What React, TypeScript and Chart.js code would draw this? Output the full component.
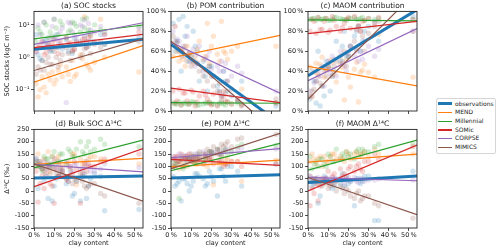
import React, { useEffect, useRef } from "react";
import { Chart, registerables } from "chart.js";
Chart.register(...registerables);

// ---------- data ----------
const seriesNames = ["observations", "MEND", "Millennial", "SOMic", "CORPSE", "MIMICS"];
const seriesColors = ["#1f77b4", "#ff7f0e", "#2ca02c", "#d62728", "#9467bd", "#8c564b"];

// clay content of the sites (fraction)
const clay = [0.01, 0.02, 0.04, 0.05, 0.07, 0.08, 0.10, 0.12, 0.14, 0.16, 0.18, 0.19, 0.21, 0.23, 0.25, 0.26, 0.28, 0.33, 0.35, 0.52,
  0.03, 0.06, 0.09, 0.11, 0.13, 0.17, 0.20, 0.24, 0.27, 0.30];
const clayMax = 0.54;
const clayTicks = [0, 0.1, 0.2, 0.3, 0.4, 0.5];
const socTicks = [0.1, 1, 10];
const fracTicks = [0, 20, 40, 60, 80, 100];
const d14cTicks = [-150, -100, -50, 0, 50, 100, 150, 200, 250];

// (a) SOC stocks, kgC m-2 — rows: obs, MEND, Millennial, SOMic, CORPSE, MIMICS
const socPoints = [
  [5, 1.2, 0.8, 3, 2.5, 1.5, 4, 2, 1.8, 3.5, 2.2, 1.3, 2.8, 3, 4.5, 2, 3.2, 5, 2.5, 4, 0.9, 3.5, 1.6, 5, 2.4, 1.5, 3.8, 2.6, 5.5, 3],
  [0.15, 0.06, 0.25, 0.12, 0.3, 0.2, 0.15, 0.4, 0.25, 0.5, 0.18, 0.8, 0.3, 1.2, 18, 0.6, 0.4, 15, 1, 0.35, 0.1, 0.08, 0.35, 0.2, 0.6, 0.3, 0.25, 0.9, 0.5, 0.7],
  [3, 8, 5, 12, 4, 6, 15, 5, 10, 4, 7, 12, 9, 6, 8, 16, 5, 7, 6, 9, 6, 10, 4.5, 8, 13, 6, 11, 15, 7, 10],
  [1.5, 2, 3, 1.2, 2.5, 1.8, 3.5, 1.3, 2.2, 4, 2.8, 1.6, 3, 2.5, 3.8, 2, 4.5, 3, 5, 6, 2.2, 1.4, 2.8, 2, 3.2, 2.6, 1.8, 3.5, 4, 2.8],
  [1.5, 10, 3, 12, 2, 4, 15, 3, 8, 0.04, 11, 6, 4, 10, 14, 3, 7, 9, 5, 8, 5, 2.5, 9, 4, 6, 12, 5, 9, 11, 6],
  [0.3, 0.5, 0.8, 0.4, 1, 0.6, 1.5, 0.5, 1.2, 2, 0.8, 1.5, 2.5, 1, 1.8, 3, 1.3, 2, 2.5, 3, 0.4, 0.7, 0.6, 1, 0.8, 1.3, 1.7, 1.2, 2.2, 2.5],
];
// fitted lines: value at clay 0 and at clayMax
const socFits = [[1.76, 3.6], [0.17, 2.3], [3.7, 9.9], [1.97, 5.1], [2.5, 11.6], [0.39, 3.7]];

// (b) POM contribution, %
const pomPoints = [
  [88, 60, 92, 40, 75, 85, 55, 65, 30, 50, 20, 45, 35, 25, 15, 40, 20, 10, 30, 5, 70, 95, 50, 80, 60, 35, 45, 20, 30, 15],
  [55, 85, 50, 62, 45, 65, 55, 50, 70, 52, 88, 48, 75, 57, 90, 60, 52, 65, 22, 65, 60, 52, 58, 48, 62, 55, 65, 50, 58, 60],
  [8, 7, 9, 6, 8, 7, 9, 8, 6, 7, 8, 9, 7, 6, 8, 7, 9, 8, 7, 8, 7, 8, 7, 9, 6, 8, 7, 8, 6, 7],
  [20, 8, 22, 6, 18, 10, 21, 5, 15, 20, 12, 8, 17, 5, 14, 20, 9, 12, 6, 8, 10, 18, 7, 19, 9, 16, 6, 18, 10, 7],
  [80, 85, 70, 60, 55, 75, 50, 45, 65, 40, 55, 60, 35, 45, 50, 40, 30, 45, 38, 20, 72, 65, 58, 62, 48, 52, 42, 40, 48, 35],
  [75, 70, 60, 55, 65, 50, 45, 55, 40, 35, 30, 45, 25, 20, 10, 15, 30, 10, 5, 12, 68, 62, 58, 50, 48, 42, 35, 28, 18, 22],
];
const pomFits = [[66.9, -12.2], [53.4, 76], [8.4, 7.8], [23, 8.4], [69, 17.9], [70.2, -24.6]];

// (c) MAOM contribution, %
const maomPoints = [
  [12, 40, 8, 60, 25, 15, 45, 35, 70, 50, 80, 55, 65, 75, 85, 60, 80, 90, 70, 95, 30, 5, 50, 20, 40, 65, 55, 80, 70, 85],
  [44, 14, 48, 37, 54, 34, 44, 49, 29, 47, 11, 51, 24, 42, 9, 39, 47, 34, 77, 34, 39, 47, 41, 51, 37, 44, 34, 49, 41, 39],
  [92, 93, 91, 94, 92, 93, 91, 92, 94, 93, 92, 91, 93, 94, 92, 93, 91, 92, 93, 92, 93, 92, 93, 91, 94, 92, 93, 92, 94, 93],
  [80, 92, 78, 94, 82, 90, 79, 95, 85, 80, 88, 92, 83, 95, 86, 80, 91, 88, 94, 92, 90, 82, 93, 81, 91, 84, 94, 82, 90, 93],
  [20, 15, 30, 40, 45, 25, 50, 55, 35, 60, 45, 40, 65, 55, 50, 60, 70, 55, 62, 80, 28, 35, 42, 38, 52, 48, 58, 60, 52, 65],
  [15, 20, 30, 35, 25, 40, 45, 35, 50, 55, 60, 45, 65, 70, 85, 80, 60, 85, 90, 80, 22, 28, 35, 42, 45, 50, 55, 62, 75, 78],
];
const maomFits = [[35.5, 101.7], [44.9, 25.3], [91.5, 90.5], [77.7, 89.9], [30.4, 82.8], [11.8, 120.4]];

// (d) Bulk SOC Δ14C, ‰
const bulkPoints = [
  [130, 10, 90, 40, -30, 110, 20, 60, 70, 30, 80, -20, 40, -40, 70, -30, 50, 60, -80, -75, 100, 60, -40, 50, 90, 40, -10, 60, 20, 70],
  [100, 150, 90, 130, 160, 80, 120, 140, 100, 110, 90, 150, 25, 130, 120, 100, 140, 130, 120, 110, 120, 110, 140, 130, 100, 120, 150, 110, 130, 140],
  [110, 120, 80, 140, 130, 100, 160, 120, 150, 110, 160, 140, 170, 200, 150, 180, 160, 210, 190, 180, 100, 130, 140, 110, 150, 170, 140, 160, 200, 170],
  [80, -45, 60, 10, 100, 30, -50, 60, 80, 50, 100, 70, 90, -50, 110, 80, 100, 120, 130, 150, 30, 70, 20, 90, 60, 40, 120, 70, 110, 100],
  [130, 110, 100, 120, 90, 100, 130, 110, 90, 120, 100, 80, 110, 90, 100, 120, 80, 90, 110, 95, 120, 100, 110, 90, 120, 100, 110, 90, 100, 80],
  [120, 100, 90, 80, 110, 70, 90, 60, 80, 50, 60, 30, 40, 70, 20, 10, 30, -10, -20, -50, 110, 90, 100, 70, 80, 60, 50, 40, 20, 30],
];
const bulkFits = [[53, 60.5], [108, 132.5], [94, 206.7], [18, 172.5], [108, 77.5], [110.6, -40.7]];

// (e) POM Δ14C, ‰
const pom14Points = [
  [60, 20, 40, -40, 50, 30, 20, 70, 60, 50, 30, 80, 40, -20, 90, 60, 100, 80, 20, 110, 30, 50, 0, 40, 70, 20, 60, 90, 40, 100],
  [100, 130, 90, 120, 140, 100, 120, 110, 130, 110, 100, 130, 25, 120, 140, 110, 130, 120, 40, 125, 110, 100, 130, 120, 110, 130, 120, 110, 130, 120],
  [120, 100, -30, 130, 110, 130, 140, 120, 150, 130, 140, 160, 150, 170, 140, 160, 150, 180, 190, 185, 110, 90, 130, 120, 140, 130, 160, 150, 170, 160],
  [130, 140, 120, 150, 130, 140, 120, 130, 140, 110, 120, 130, 110, 150, 120, 100, 110, 120, 100, 110, 140, 130, 150, 130, 120, 140, 130, 120, 110, 120],
  [140, 130, 150, 140, 130, 145, 130, 150, 140, 160, 150, 140, 155, 165, 150, 160, 170, 165, 175, 170, 135, 145, 130, 140, 150, 145, 160, 150, 165, 160],
  [100, 110, 120, 130, 140, 120, 150, 140, 160, 150, 170, 160, 180, 170, 190, 180, 200, 210, 215, 230, 120, 100, 130, 140, 130, 150, 160, 170, 190, 180],
];
const pom14Fits = [[53, 66.5], [98, 125.5], [83, 193], [128, 104], [135, 172], [91, 234]];

// (f) MAOM Δ14C, ‰
const maom14Points = [
  [40, 20, 50, -50, 30, 60, 40, 10, 50, 30, 20, 60, 40, -60, 50, 30, 60, -120, -120, 80, 30, -20, 50, 40, 20, 70, 30, 50, 40, 60],
  [120, 150, 110, 130, 100, 140, 120, 150, 130, 140, 120, 160, 130, 150, 140, 150, 160, 170, 150, 150, 130, 140, 120, 140, 150, 130, 150, 160, 150, 140],
  [140, 90, 120, 100, 130, 110, 150, 120, 170, 130, 140, 160, 150, 130, 170, 150, 160, 180, 190, 190, 110, 130, 100, 140, 120, 150, 140, 160, 170, 160],
  [-60, 10, 30, -40, 50, 40, 80, 60, 40, 90, 70, 50, 100, 80, 110, 90, 120, 150, 130, 180, -10, 20, 50, 30, 70, 60, 90, 100, 80, 120],
  [60, 50, 40, 55, 45, 50, 40, 55, 45, 50, 30, 45, 40, 55, 35, 50, 40, 45, 50, 45, 50, 45, 55, 40, 50, 45, 55, 40, 50, 45],
  [60, 40, 50, 30, 20, 40, 10, 30, 0, 20, -10, 10, -20, -30, 0, -40, -20, -50, -60, -110, 50, 40, 30, 20, 30, 10, 0, -10, -30, -20],
];
const maom14Fits = [[35, 60.5], [117, 150], [85, 206.7], [0, 186], [55, 41.7], [55, -95.6]];

// ---------- rendering ----------
const FONT = "DejaVu Sans";
const TXT = "#222";

function rgba(hex: string, a: number) {
  const n = parseInt(hex.slice(1), 16);
  return `rgba(${(n >> 16) & 255},${(n >> 8) & 255},${n & 255},${a})`;
}

const supMap: Record<string, string> = { "-1": "10\u207B\u00B9", "0": "10\u2070", "1": "10\u00B9" };

type Panel = {
  title: string;
  plotLeft: number;
  plotTop: number;
  plotW: number;
  plotH: number;
  leftW: number;
  bottomH: number;
  kind: "soc" | "frac" | "d14c";
  yTitle?: string;
  showX: boolean;
  points: number[][];
  fits: number[][];
};

const TOPH = 12;
const RIGHTW = 10;

const boxPlugin = {
  id: "boxFrame",
  afterDatasetsDraw(chart: any) {
    const { ctx, chartArea: a } = chart;
    ctx.save();
    ctx.strokeStyle = "#222";
    ctx.lineWidth = 0.9;
    ctx.strokeRect(a.left, a.top, a.right - a.left, a.bottom - a.top);
    ctx.restore();
  },
};

function PanelChart({ p }: { p: Panel }) {
  const ref = useRef<HTMLCanvasElement>(null);
  const cw = p.leftW + p.plotW + RIGHTW;
  const ch = TOPH + p.plotH + p.bottomH;
  useEffect(() => {
    if (!ref.current) return;
    const datasets: any[] = [];
    p.fits.forEach((f, i) => {
      datasets.push({
        label: seriesNames[i],
        data: [
          { x: 0, y: f[0] },
          { x: clayMax, y: f[1] },
        ],
        showLine: true,
        borderColor: seriesColors[i],
        backgroundColor: seriesColors[i],
        borderWidth: i === 0 ? 3 : 1.2,
        pointRadius: 0,
        order: 5 - i,
      });
    });
    p.points.forEach((vals, i) => {
      datasets.push({
        label: seriesNames[i] + " points",
        data: clay.map((c, k) => ({ x: c, y: vals[k] })),
        backgroundColor: rgba(seriesColors[i], 0.2),
        borderWidth: 0,
        pointRadius: 2.7,
        order: 20 - i,
      });
    });

    const tickFont = { family: FONT, size: 6.5 };
    let yScale: any;
    if (p.kind === "soc") {
      yScale = {
        type: "logarithmic",
        min: 0.022,
        max: 26,
        afterBuildTicks: (s: any) => {
          s.ticks = socTicks.map((v) => ({ value: v, major: true }));
        },
        ticks: {
          callback: (v: number) => supMap[String(Math.round(Math.log10(v)))] || "",
          font: tickFont,
          color: TXT,
          padding: 1.5,
          autoSkip: false,
        },
      };
    } else if (p.kind === "frac") {
      yScale = {
        type: "linear",
        min: 0,
        max: 100,
        afterBuildTicks: (s: any) => {
          s.ticks = fracTicks.map((v) => ({ value: v }));
        },
        ticks: {
          callback: (v: number) => `${v}\u2009%`,
          font: tickFont,
          color: TXT,
          padding: 1.5,
          autoSkip: false,
        },
      };
    } else {
      yScale = {
        type: "linear",
        min: -150,
        max: 250,
        afterBuildTicks: (s: any) => {
          s.ticks = d14cTicks.map((v) => ({ value: v }));
        },
        ticks: {
          callback: (v: number) => String(v),
          font: tickFont,
          color: TXT,
          padding: 1.5,
          autoSkip: false,
        },
      };
    }
    yScale.grid = { display: true, drawOnChartArea: false, drawTicks: true, tickLength: 3, color: TXT, lineWidth: 0.8 };
    yScale.border = { display: false };
    yScale.title = {
      display: !!p.yTitle,
      text: p.yTitle || "",
      font: { family: FONT, size: 6.5 },
      color: TXT,
      padding: { top: 3, bottom: 0 },
    };
    yScale.afterFit = (s: any) => {
      s.width = p.leftW;
    };

    const chart = new Chart(ref.current, {
      type: "scatter",
      data: { datasets },
      plugins: [boxPlugin],
      options: {
        animation: false,
        responsive: false,
        maintainAspectRatio: false,
        devicePixelRatio: 1,
        events: [],
        layout: { padding: { top: 0, right: RIGHTW, left: 0, bottom: 0 } },
        plugins: {
          legend: { display: false },
          tooltip: { enabled: false },
          title: {
            display: true,
            text: p.title,
            fullSize: false,
            font: { family: FONT, size: 7.5, weight: "normal" },
            color: TXT,
            padding: { top: 1.5, bottom: 0.9 },
          },
        },
        scales: {
          x: {
            type: "linear",
            min: 0,
            max: clayMax,
            afterBuildTicks: (s: any) => {
              s.ticks = clayTicks.map((v) => ({ value: v }));
            },
            ticks: {
              callback: (v: number) => (p.showX ? `${Math.round(v * 100)}\u2009%` : ""),
              font: tickFont,
              color: TXT,
              padding: 0,
              maxRotation: 0,
              autoSkip: false,
            },
            grid: { display: true, drawOnChartArea: false, drawTicks: true, tickLength: 3, color: TXT, lineWidth: 0.8 },
            border: { display: false },
            title: {
              display: p.showX,
              text: "clay content",
              font: { family: FONT, size: 6.5 },
              color: TXT,
              padding: { top: 0, bottom: 3 },
            },
            afterFit: (s: any) => {
              s.height = p.bottomH;
            },
          },
          y: yScale,
        },
      } as any,
    });
    return () => chart.destroy();
  }, []);
  return (
    <canvas
      ref={ref}
      width={cw}
      height={ch}
      style={{
        position: "absolute",
        left: p.plotLeft - p.leftW,
        top: p.plotTop - TOPH,
        width: cw,
        height: ch,
      }}
    />
  );
}

const panels: Panel[] = [
  { title: "(a) SOC stocks", plotLeft: 34, plotTop: 12, plotW: 109, plotH: 99, leftW: 34, bottomH: 8, kind: "soc", yTitle: "SOC stocks (kgC m\u207B\u00B2)", showX: false, points: socPoints, fits: socFits },
  { title: "(b) POM contribution", plotLeft: 171, plotTop: 12, plotW: 109, plotH: 99, leftW: 30, bottomH: 8, kind: "frac", showX: false, points: pomPoints, fits: pomFits },
  { title: "(c) MAOM contribution", plotLeft: 308, plotTop: 12, plotW: 109, plotH: 99, leftW: 30, bottomH: 8, kind: "frac", showX: false, points: maomPoints, fits: maomFits },
  { title: "(d) Bulk SOC \u0394\u00B9\u2074C", plotLeft: 34, plotTop: 130, plotW: 109, plotH: 98, leftW: 34, bottomH: 22, kind: "d14c", yTitle: "\u0394\u00B9\u2074C (\u2030)", showX: true, points: bulkPoints, fits: bulkFits },
  { title: "(e) POM \u0394\u00B9\u2074C", plotLeft: 171, plotTop: 130, plotW: 109, plotH: 98, leftW: 30, bottomH: 22, kind: "d14c", showX: true, points: pom14Points, fits: pom14Fits },
  { title: "(f) MAOM \u0394\u00B9\u2074C", plotLeft: 308, plotTop: 130, plotW: 109, plotH: 98, leftW: 30, bottomH: 22, kind: "d14c", showX: true, points: maom14Points, fits: maom14Fits },
];

function Legend() {
  return (
    <div
      style={{
        position: "absolute",
        left: 436,
        top: 98,
        width: 60,
        height: 56,
        boxSizing: "border-box",
        border: "1px solid #d6d6d6",
        borderRadius: 2,
        background: "#fff",
        fontFamily: FONT,
        fontSize: 6,
        color: TXT,
        padding: "0.5px 0 0 1px",
        lineHeight: "8.7px",
      }}
    >
      {seriesNames.map((n, i) => (
        <div key={n} style={{ display: "flex", alignItems: "center", height: 8.7, whiteSpace: "nowrap" }}>
          <span
            style={{
              display: "inline-block",
              width: 14,
              height: i === 0 ? 3 : 1.3,
              background: seriesColors[i],
              marginRight: 3,
              flex: "none",
            }}
          />
          {n}
        </div>
      ))}
    </div>
  );
}

export default function App() {
  return (
    <div style={{ position: "fixed", left: 0, top: 0, width: 500, height: 251, background: "#fff", overflow: "hidden" }}>
      {panels.map((p) => (
        <PanelChart key={p.title} p={p} />
      ))}
      <Legend />
    </div>
  );
}
